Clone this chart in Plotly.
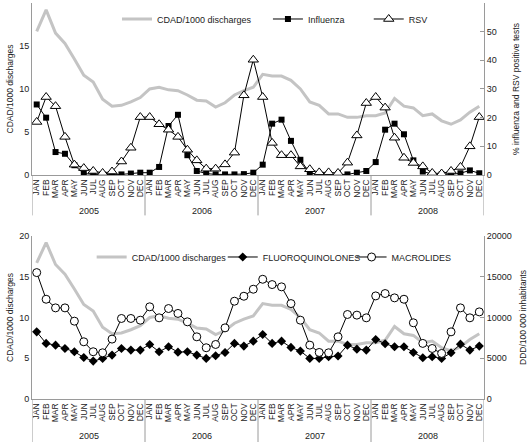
import plotly.graph_objects as go

months = ["JAN", "FEB", "MAR", "APR", "MAY", "JUN", "JUL", "AUG", "SEP", "OCT", "NOV", "DEC"]
years = ["2005", "2006", "2007", "2008"]
categories = [f"{m} {y}" for y in years for m in months]
tick_text = [m for y in years for m in months]

cdad = [16.7, 19.2, 16.5, 15.3, 13.5, 11.6, 10.8, 8.8, 8.0, 8.1, 8.5, 9.0,
        10.0, 10.2, 9.9, 9.8, 9.3, 8.7, 8.6, 7.9, 8.4, 9.3, 9.8, 10.2,
        11.7, 11.5, 11.5, 11.0, 10.0, 8.5, 8.1, 7.1, 7.1, 6.7, 6.7, 6.9,
        6.9, 7.2, 8.9, 8.0, 7.8, 6.9, 7.1, 6.3, 5.9, 6.4, 7.3, 8.0]

influenza = [24.6, 20.0, 8.0, 7.4, 3.4, 0.5, 0.2, 0.2, 0.2, 0.2, 0.5, 0.8,
             0.8, 2.8, 17.1, 21.0, 6.9, 1.4, 0.5, 0.2, 0.2, 0.2, 0.3, 0.8,
             3.6, 17.9, 19.3, 11.9, 5.3, 0.7, 0.2, 0.2, 0.2, 0.2, 0.8, 1.4,
             4.5, 15.8, 17.9, 14.2, 5.1, 1.2, 0.3, 0.2, 0.2, 0.6, 1.6, 0.6]

rsv = [18.5, 27.2, 24.0, 13.3, 3.6, 2.4, 1.4, 0.7, 1.2, 4.7, 9.5, 20.2,
       20.2, 17.7, 15.8, 13.3, 8.8, 5.1, 2.2, 2.2, 3.7, 7.8, 27.8, 40.2,
       27.2, 11.2, 6.9, 6.9, 3.0, 2.0, 0.9, 0.9, 0.7, 4.3, 13.8, 25.1,
       27.2, 23.5, 13.0, 6.0, 4.2, 3.0, 0.7, 0.5, 1.4, 2.8, 10.0, 20.2]

fluoroquinolones = [8240, 6820, 6610, 6200, 5800, 5100, 4650, 4980, 5390, 6200, 6000, 6000,
                    6690, 5800, 6410, 5750, 5800, 5390, 4980, 5310, 5710, 6820, 6490, 7100,
                    7920, 6820, 7100, 6330, 5880, 4980, 4980, 5180, 5270, 6610, 6120, 6000,
                    7310, 6780, 6410, 6410, 5710, 5060, 5180, 4980, 5670, 6730, 6000, 6490]

macrolides = [15510, 12240, 11180, 11180, 9550, 7020, 5800, 5670, 7350, 9880, 9880, 9670,
              11310, 9960, 11100, 10500, 9470, 7630, 6290, 6690, 8730, 12000, 12610, 13470,
              14690, 14040, 13760, 11710, 9670, 6610, 5710, 5670, 7630, 10370, 10290, 9960,
              12650, 12940, 12410, 12240, 9350, 6820, 6200, 5590, 8240, 11180, 9960, 10690]

FONT = "Liberation Sans, Arial, sans-serif"
GRAY_LINE = "#c4c4c4"
AXIS = "#9a9a9a"
TXT = "#222"

fig = go.Figure()

# ---- top panel ----
fig.add_trace(go.Scatter(x=categories, y=cdad, xaxis="x", yaxis="y", mode="lines",
                         line=dict(color=GRAY_LINE, width=3), name="CDAD/1000 discharges",
                         legend="legend"))
fig.add_trace(go.Scatter(x=categories, y=influenza, xaxis="x", yaxis="y2", mode="lines+markers",
                         line=dict(color="black", width=1),
                         marker=dict(symbol="square", size=6, color="black"),
                         name="Influenza", legend="legend2"))
fig.add_trace(go.Scatter(x=categories, y=rsv, xaxis="x", yaxis="y2", mode="lines+markers",
                         line=dict(color="black", width=1),
                         marker=dict(symbol="triangle-up", size=9, color="white",
                                     line=dict(color="black", width=1)),
                         name="RSV", legend="legend3"))

# ---- bottom panel ----
fig.add_trace(go.Scatter(x=categories, y=cdad, xaxis="x2", yaxis="y3", mode="lines",
                         line=dict(color=GRAY_LINE, width=3), name="CDAD/1000 discharges",
                         legend="legend4"))
fig.add_trace(go.Scatter(x=categories, y=fluoroquinolones, xaxis="x2", yaxis="y4", mode="lines+markers",
                         line=dict(color="black", width=1),
                         marker=dict(symbol="diamond", size=7, color="black"),
                         name="FLUOROQUINOLONES", legend="legend5"))
fig.add_trace(go.Scatter(x=categories, y=macrolides, xaxis="x2", yaxis="y4", mode="lines+markers",
                         line=dict(color="black", width=1),
                         marker=dict(symbol="circle", size=8, color="white",
                                     line=dict(color="black", width=1)),
                         name="MACROLIDES", legend="legend6"))

TOP_DOM = [0.5657, 1.0]
BOT_DOM = [0.0, 0.4116]

tickfont = dict(family=FONT, size=9, color=TXT)
monthfont = dict(family=FONT, size=8.5, color=TXT)
titlefont = dict(family=FONT, size=8.5, color=TXT)

xcommon = dict(type="category", categoryorder="array", categoryarray=categories,
               tickmode="array", tickvals=categories, ticktext=tick_text, tickangle=-90,
               tickfont=monthfont, showline=True, linecolor=AXIS, linewidth=1,
               showgrid=False, zeroline=False, ticks="", range=[-0.5, 47.5], domain=[0, 1],
               automargin=False, ticklabelstandoff=0)

yleft = dict(showgrid=False, zeroline=False, showline=True, linecolor=AXIS, linewidth=1,
             ticks="", tickfont=tickfont, automargin=False,
             title=dict(text="CDAD/1000 discharges", font=titlefont, standoff=4))

yright = dict(showgrid=False, zeroline=False, showline=True, linecolor=AXIS, linewidth=1,
              ticks="inside", ticklen=4, tickcolor=AXIS, tickfont=tickfont, automargin=False,
              side="right", tickformat="d")

fig.update_layout(
    width=528, height=442,
    margin=dict(l=32, r=44, t=3, b=43, autoexpand=False),
    paper_bgcolor="white", plot_bgcolor="white",
    font=dict(family=FONT, size=9, color=TXT),
    xaxis=dict(xcommon, anchor="y"),
    xaxis2=dict(xcommon, anchor="y3"),
    yaxis=dict(yleft, domain=TOP_DOM, range=[0, 20], dtick=5, anchor="x"),
    yaxis2=dict(yright, domain=TOP_DOM, range=[0, 60], dtick=10, overlaying="y", anchor="x",
                title=dict(text="% influenza and RSV positive tests", font=titlefont, standoff=17)),
    yaxis3=dict(yleft, domain=BOT_DOM, range=[0, 20], dtick=5, anchor="x2"),
    yaxis4=dict(yright, domain=BOT_DOM, range=[0, 20000], dtick=5000, overlaying="y3", anchor="x2",
                title=dict(text="DDD/100 000 inhabitants", font=titlefont, standoff=14)),
    showlegend=True,
)

legend_common = dict(orientation="h", xanchor="left", yanchor="middle", bgcolor="rgba(0,0,0,0)",
                     borderwidth=0, font=dict(family=FONT, size=9, color=TXT), itemwidth=30)
fig.update_layout(
    legend=dict(legend_common, x=0.188, y=0.9596),
    legend2=dict(legend_common, x=0.522, y=0.9596),
    legend3=dict(legend_common, x=0.745, y=0.9596),
    legend4=dict(legend_common, x=0.132, y=0.3586),
    legend5=dict(legend_common, x=0.422, y=0.3586),
    legend6=dict(legend_common, x=0.707, y=0.3586),
)

# year separators and labels
shapes = []
annotations = []
for xa, ya, depth, ylab in [("x", "y", -0.235, -0.21), ("x2", "y3", -0.27, -0.225)]:
    for b in [-0.5, 11.5, 23.5, 35.5, 47.5]:
        shapes.append(dict(type="line", xref=xa, yref=f"{ya} domain", x0=b, x1=b, y0=0, y1=depth,
                           line=dict(color=AXIS, width=1)))
    for i, yr in enumerate(years):
        annotations.append(dict(text=yr, xref=xa, yref=f"{ya} domain", x=i * 12 + 5.5, y=ylab,
                                showarrow=False, yanchor="middle",
                                font=dict(family=FONT, size=9, color=TXT)))
fig.update_layout(shapes=shapes, annotations=annotations)

fig.write_html("out.html", config={"displayModeBar": False},
               post_script="document.body.style.margin='0';")
